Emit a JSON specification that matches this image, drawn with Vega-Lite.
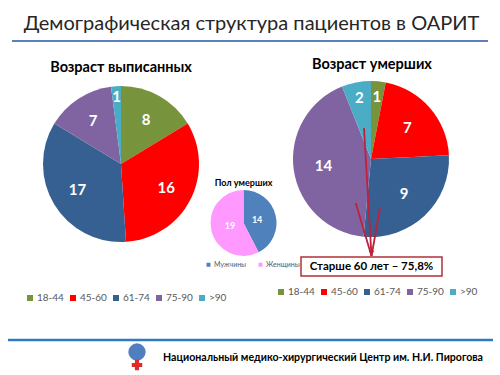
{
  "$schema": "https://vega.github.io/schema/vega-lite/v6.json",
  "width": 500,
  "height": 375,
  "autosize": {"type": "none"},
  "padding": 0,
  "background": "white",
  "config": {
    "view": {"stroke": null},
    "font": "Lato, Open Sans",
    "legend": {"labelFont": "Lato, Open Sans", "labelColor": "#595959", "symbolType": "square", "symbolStrokeWidth": 0, "symbolOpacity": 1, "title": null, "padding": 0}
  },
  "data": {"values": [{}]},
  "resolve": {"scale": {"color": "independent", "theta": "independent"}, "legend": {"color": "independent"}},
  "layer": [
    {
      "mark": {"type": "text", "fontSize": 20, "color": "#262626", "baseline": "middle"},
      "encoding": {
        "text": {"value": "Демографическая структура пациентов в ОАРИТ"},
        "x": {"datum": 50.3, "type": "quantitative", "scale": {"domain": [0, 100], "nice": false, "zero": false}, "axis": null},
        "y": {"datum": 4.8, "type": "quantitative", "scale": {"domain": [0, 75], "nice": false, "zero": false, "reverse": true}, "axis": null}
      }
    },
    {
      "mark": {"type": "rule", "color": "#5b80bd", "strokeWidth": 2},
      "encoding": {
        "x": {"datum": 2.4, "type": "quantitative"},
        "x2": {"datum": 97.6},
        "y": {"datum": 8.2, "type": "quantitative"}
      }
    },
    {
      "mark": {"type": "rule", "color": "#2e7bc4", "strokeWidth": 2.5},
      "encoding": {
        "x": {"datum": 1.6, "type": "quantitative"},
        "x2": {"datum": 98.6},
        "y": {"datum": 68, "type": "quantitative"}
      }
    },
    {
      "mark": {"type": "text", "fontSize": 14.5, "fontWeight": "bold", "color": "#000000", "baseline": "middle"},
      "encoding": {
        "text": {"value": "Возраст выписанных"},
        "x": {"datum": 24.2, "type": "quantitative"},
        "y": {"datum": 13.6, "type": "quantitative"}
      }
    },
    {
      "mark": {"type": "text", "fontSize": 14.5, "fontWeight": "bold", "color": "#000000", "baseline": "middle"},
      "encoding": {
        "text": {"value": "Возраст умерших"},
        "x": {"datum": 74.4, "type": "quantitative"},
        "y": {"datum": 13, "type": "quantitative"}
      }
    },
    {
      "mark": {"type": "text", "fontSize": 9, "fontWeight": "bold", "color": "#000000", "baseline": "middle"},
      "encoding": {
        "text": {"value": "Пол умерших"},
        "x": {"datum": 48.7, "type": "quantitative"},
        "y": {"datum": 36.6, "type": "quantitative"}
      }
    },
    {
      "data": {"values": [
        {"age": "18-44", "n": 8},
        {"age": "45-60", "n": 16},
        {"age": "61-74", "n": 17},
        {"age": "75-90", "n": 7},
        {"age": ">90", "n": 1}
      ]},
      "encoding": {
        "theta": {"field": "n", "type": "quantitative", "stack": true},
        "order": {"field": "age", "sort": "ascending"},
        "x": {"datum": 24.2, "type": "quantitative"},
        "y": {"datum": 32.8, "type": "quantitative"}
      },
      "layer": [
        {
          "mark": {"type": "arc", "outerRadius": 78},
          "encoding": {
            "color": {"field": "age", "type": "nominal",
              "scale": {"domain": ["18-44", "45-60", "61-74", "75-90", ">90"], "range": ["#77933c", "#ff0000", "#376092", "#8064a2", "#4bacc6"]},
              "legend": {"orient": "none", "legendX": 25, "legendY": 293, "direction": "horizontal", "labelFontSize": 10, "symbolSize": 36, "columnPadding": 4, "labelOffset": 2}}
          }
        },
        {
          "mark": {"type": "text", "radius": 51, "fontSize": 15, "fontWeight": "bold", "color": "white", "baseline": "middle"},
          "encoding": {"text": {"condition": {"test": "datum.n >= 3", "field": "n", "type": "quantitative"}, "value": ""}, "detail": {"field": "age"}}
        },
        {
          "mark": {"type": "text", "radius": 67, "fontSize": 15, "fontWeight": "bold", "color": "white", "baseline": "middle"},
          "encoding": {"text": {"condition": {"test": "datum.n < 3", "field": "n", "type": "quantitative"}, "value": ""}, "detail": {"field": "age"}}
        }
      ]
    },
    {
      "data": {"values": [
        {"sex": "Мужчины", "n": 14},
        {"sex": "Женщины", "n": 19}
      ]},
      "encoding": {
        "theta": {"field": "n", "type": "quantitative", "stack": true},
        "order": {"field": "sex", "sort": "descending"},
        "x": {"datum": 48.7, "type": "quantitative"},
        "y": {"datum": 44.6, "type": "quantitative"}
      },
      "layer": [
        {
          "mark": {"type": "arc", "outerRadius": 33},
          "encoding": {
            "color": {"field": "sex", "type": "nominal",
              "scale": {"domain": ["Мужчины", "Женщины"], "range": ["#4f81bd", "#ff99ff"]},
              "legend": {"orient": "none", "legendX": 205, "legendY": 261, "direction": "horizontal", "labelFontSize": 7, "symbolSize": 16, "columnPadding": 10, "labelOffset": 2}}
          }
        },
        {
          "mark": {"type": "text", "radius": 14, "fontSize": 9, "fontWeight": "bold", "color": "white", "baseline": "middle"},
          "encoding": {"text": {"field": "n", "type": "quantitative"}, "detail": {"field": "sex"}}
        }
      ]
    },
    {
      "data": {"values": [
        {"age": "18-44", "n": 1},
        {"age": "45-60", "n": 7},
        {"age": "61-74", "n": 9},
        {"age": "75-90", "n": 14},
        {"age": ">90", "n": 2}
      ]},
      "encoding": {
        "theta": {"field": "n", "type": "quantitative", "stack": true},
        "order": {"field": "age", "sort": "ascending"},
        "x": {"datum": 74.2, "type": "quantitative"},
        "y": {"datum": 31.8, "type": "quantitative"}
      },
      "layer": [
        {
          "mark": {"type": "arc", "outerRadius": 78},
          "encoding": {
            "color": {"field": "age", "type": "nominal",
              "scale": {"domain": ["18-44", "45-60", "61-74", "75-90", ">90"], "range": ["#77933c", "#ff0000", "#376092", "#8064a2", "#4bacc6"]},
              "legend": {"orient": "none", "legendX": 276, "legendY": 287, "direction": "horizontal", "labelFontSize": 10, "symbolSize": 36, "columnPadding": 4, "labelOffset": 2}}
          }
        },
        {
          "mark": {"type": "text", "radius": 48, "fontSize": 15, "fontWeight": "bold", "color": "white", "baseline": "middle"},
          "encoding": {"text": {"condition": {"test": "datum.n >= 3", "field": "n", "type": "quantitative"}, "value": ""}, "detail": {"field": "age"}}
        },
        {
          "mark": {"type": "text", "radius": 62, "fontSize": 15, "fontWeight": "bold", "color": "white", "baseline": "middle"},
          "encoding": {"text": {"condition": {"test": "datum.n < 3", "field": "n", "type": "quantitative"}, "value": ""}, "detail": {"field": "age"}}
        }
      ]
    },
    {
      "data": {"values": [
        {"x0": 72.8, "y0": 25.6, "x1": 74.3, "y1": 51.2},
        {"x0": 71.14, "y0": 40.6, "x1": 74.3, "y1": 51.2},
        {"x0": 76.0, "y0": 41.6, "x1": 74.3, "y1": 51.2}
      ]},
      "mark": {"type": "rule", "color": "#c0203a", "strokeWidth": 1.8},
      "encoding": {
        "x": {"field": "x0", "type": "quantitative"},
        "y": {"field": "y0", "type": "quantitative"},
        "x2": {"field": "x1"},
        "y2": {"field": "y1"}
      }
    },
    {
      "mark": {"type": "point", "shape": "triangle-down", "filled": true, "color": "#c0203a", "size": 30, "opacity": 1},
      "encoding": {
        "x": {"datum": 74.3, "type": "quantitative"},
        "y": {"datum": 50.6, "type": "quantitative"}
      }
    },
    {
      "mark": {"type": "rect", "fill": "white", "stroke": "#b0303a", "strokeWidth": 1.5},
      "encoding": {
        "x": {"datum": 60.2, "type": "quantitative"},
        "x2": {"datum": 88.4},
        "y": {"datum": 51.4, "type": "quantitative"},
        "y2": {"datum": 55.2}
      }
    },
    {
      "mark": {"type": "text", "fontSize": 11.5, "fontWeight": "bold", "color": "#000000", "baseline": "middle"},
      "encoding": {
        "text": {"value": "Старше 60 лет – 75,8%"},
        "x": {"datum": 74.3, "type": "quantitative"},
        "y": {"datum": 53.3, "type": "quantitative"}
      }
    },
    {
      "mark": {"type": "text", "align": "right", "fontSize": 10.6, "fontWeight": "bold", "color": "#000000", "baseline": "middle"},
      "encoding": {
        "text": {"value": "Национальный медико-хирургический Центр им. Н.И. Пирогова"},
        "x": {"datum": 96.6, "type": "quantitative"},
        "y": {"datum": 71.6, "type": "quantitative"}
      }
    },
    {
      "mark": {"type": "point", "shape": "circle", "filled": true, "color": "#4f7fc0", "size": 300, "opacity": 1},
      "encoding": {
        "x": {"datum": 27.4, "type": "quantitative"},
        "y": {"datum": 70.4, "type": "quantitative"}
      }
    },
    {
      "mark": {"type": "point", "shape": "cross", "filled": true, "color": "#e02a2a", "size": 110, "opacity": 1},
      "encoding": {
        "x": {"datum": 27.4, "type": "quantitative"},
        "y": {"datum": 73, "type": "quantitative"}
      }
    }
  ]
}
